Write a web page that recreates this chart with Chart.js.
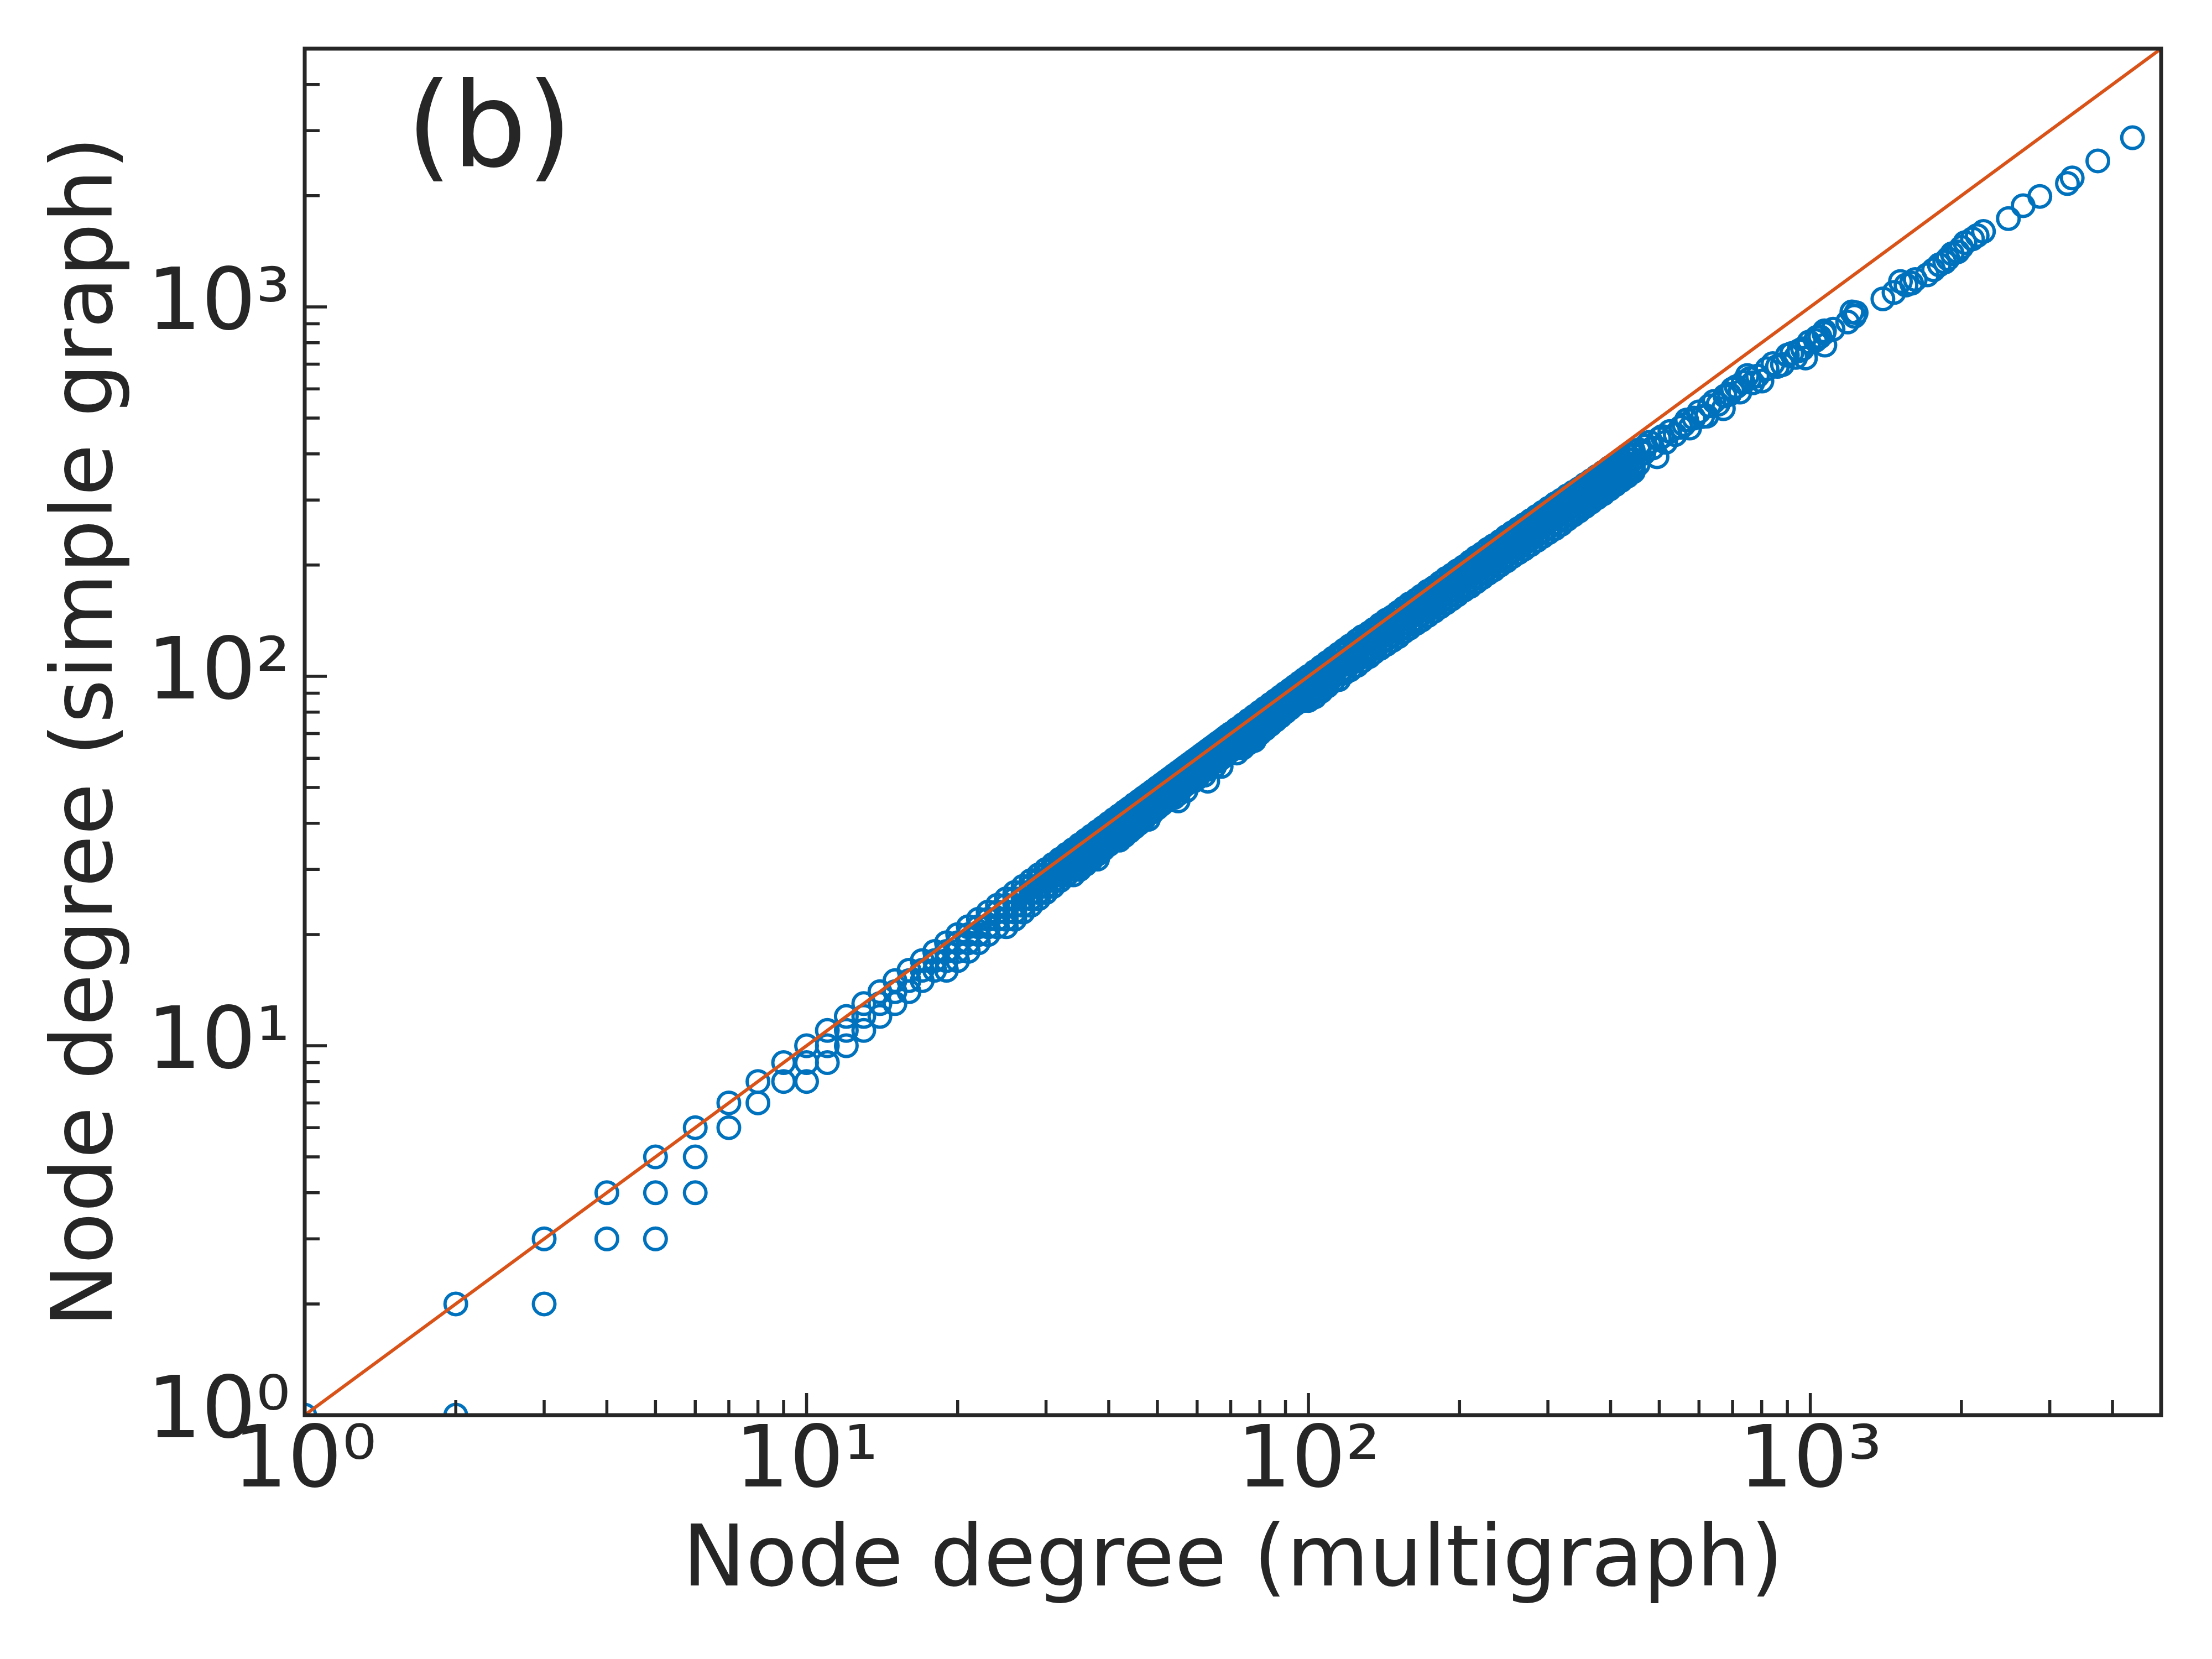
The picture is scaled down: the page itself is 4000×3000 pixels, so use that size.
<!DOCTYPE html>
<html>
<head>
<meta charset="utf-8">
<title>Node degree: multigraph vs simple graph</title>
<script src="https://cdn.jsdelivr.net/npm/chart.js@4.4.1/dist/chart.umd.min.js"></script>
<style>
  html, body { margin: 0; padding: 0; background: #ffffff; }
  canvas { display: block; }
</style>
</head>
<body>
<canvas id="degreeChart" width="4000" height="3000"></canvas>
<script>
// degree of a node in the multigraph, one entry per distinct value
var multigraphDegree = [
  1, 2, 3, 4, 5, 6, 7, 8, 9, 10, 11, 12,
  13, 14, 15, 16, 17, 18, 19, 20, 21, 22, 23, 24, 25, 26, 27, 28, 29, 30,
  31, 32, 33, 34, 35, 36, 37, 38, 39, 40, 41, 42, 43, 44, 45, 46, 47, 48, 49, 50,
  51, 52, 53, 54, 55, 56, 57, 58, 59, 60, 61, 62, 63, 64, 65, 66, 67, 68, 69, 70,
  72, 74, 76, 78, 80, 82, 84, 86, 88, 90, 92, 94, 96, 98,
  100, 103, 106, 109, 112, 115, 118, 121, 125, 128,
  132, 135, 139, 143, 147, 151, 155, 159, 164, 168,
  173, 178, 183, 188, 193, 198, 204, 210, 216, 222,
  228, 234, 241, 248, 255, 262, 269, 277, 285, 293,
  301, 310, 319, 328, 337, 346, 356, 366, 376, 387,
  398, 409, 420, 432, 444,
  454, 456, 466, 470, 478, 485, 495, 500, 507, 515,
  525, 538, 552, 560, 567, 575, 586, 600, 610, 622,
  630, 643, 655, 671, 676, 690, 700, 712, 724, 735,
  749, 758, 768, 785, 801, 820, 842, 860, 880, 900,
  918, 935, 949, 965, 978, 994, 1024, 1030, 1045, 1064,
  1067, 1069, 1110, 1187, 1210, 1224, 1234, 1395, 1468, 1512,
  1551, 1591, 1618, 1710, 1760, 1807, 1853, 1880, 1917, 1967,
  2000, 2034, 2104, 2150, 2213, 2481, 2655, 2866, 3253, 3325,
  3740, 4385
];

// simple-graph degrees seen for each multigraph degree above
var simpleGraphDegree = [
  [1], [2, 1], [3, 2], [4, 3], [5, 4, 3], [6, 5, 4], [7, 6], [8, 7], [9, 8], [10, 9, 8], [11, 10, 9], [12, 11, 10],
  [13, 12, 11], [14, 13, 12], [15, 14, 13], [16, 15, 14], [17, 16, 15], [18, 17, 16],
  [19, 18, 17, 16], [20, 19, 18, 17], [21, 20, 19, 18], [22, 21, 20, 19], [23, 22, 21, 20], [24, 23, 22, 21],
  [25, 24, 23, 22, 21], [26, 25, 24, 23, 22], [27, 26, 25, 24, 23], [28, 27, 26, 25, 24], [29, 28, 27, 26, 25], [30, 29, 28, 27, 26],
  [31, 30, 29, 28, 27], [32, 31, 30, 29, 28], [33, 32, 31, 30, 29], [34, 33, 32, 31, 30, 29], [35, 34, 33, 32, 31, 30],
  [36, 35, 34, 33, 32, 31], [37, 36, 35, 34, 33, 32], [38, 37, 36, 35, 34, 33, 32], [39, 38, 37, 36, 35, 34], [40, 39, 38, 37, 36, 35],
  [41, 40, 39, 38, 37, 36], [42, 41, 40, 39, 38, 37, 36], [43, 42, 41, 40, 39, 38, 37], [44, 43, 42, 41, 40, 39, 38], [45, 44, 43, 42, 41, 40, 39],
  [46, 45, 44, 43, 42, 41, 40], [47, 46, 45, 44, 43, 42, 41], [48, 47, 46, 45, 44, 43, 41], [49, 48, 47, 46, 45, 44, 43], [50, 49, 48, 47, 46, 45, 44],
  [51, 50, 49, 48, 47, 46, 45], [52, 51, 50, 49, 48, 47, 46], [53, 52, 51, 50, 49, 48, 47], [54, 53, 52, 51, 50, 49, 47], [55, 54, 53, 52, 51, 50, 48, 46],
  [56, 55, 54, 53, 52, 51, 50], [57, 56, 55, 54, 53, 52, 51, 49], [58, 57, 56, 55, 54, 53, 52], [59, 58, 57, 56, 55, 54, 52], [60, 59, 58, 57, 56, 55, 54, 53],
  [61, 60, 59, 58, 57, 56, 55], [62, 61, 60, 59, 58, 57, 56, 54], [63, 62, 61, 60, 59, 58, 56, 52], [64, 63, 62, 61, 60, 59, 58], [65, 64, 63, 62, 61, 60, 59, 57],
  [66, 65, 64, 63, 62, 61, 59], [67, 66, 65, 64, 63, 62, 60, 57], [68, 67, 66, 65, 64, 63, 61], [69, 68, 67, 66, 65, 64, 62], [70, 69, 68, 67, 66, 65, 63],
  [72, 70, 68, 66, 64, 62], [74, 72, 70, 68, 66, 64], [76, 74, 72, 70, 68, 66], [78, 76, 74, 72, 70, 68, 67], [80, 78, 76, 74, 72, 70],
  [82, 80, 78, 76, 74, 72], [84, 82, 80, 78, 76, 74], [86, 84, 82, 80, 78, 76], [88, 86, 84, 82, 80, 78], [90, 88, 86, 84, 82, 80],
  [92, 90, 88, 86, 84, 82], [94, 92, 90, 88, 86, 84], [96, 94, 92, 90, 88, 86], [98, 96, 94, 92, 90, 88, 86],
  [100, 97, 94, 91, 88, 86], [103, 100, 97, 94, 91, 88], [106, 103, 100, 97, 94, 91], [109, 106, 103, 100, 97, 94], [112, 109, 106, 103, 100, 97],
  [115, 112, 109, 106, 102, 98], [118, 115, 111, 108, 105, 102], [121, 118, 114, 111, 108, 104], [125, 121, 118, 114, 111, 107], [128, 124, 121, 117, 113, 110],
  [131, 128, 124, 120, 117, 113], [134, 131, 127, 123, 119, 116], [138, 134, 130, 127, 123, 119], [142, 138, 134, 130, 126, 122], [145, 141, 137, 133, 129, 125],
  [149, 145, 141, 137, 133, 128], [153, 149, 144, 140, 136, 132], [157, 152, 148, 144, 139, 135], [161, 157, 152, 148, 143, 139], [165, 160, 156, 151, 147, 142],
  [170, 165, 160, 155, 151, 146], [174, 169, 164, 159, 155, 150], [179, 174, 169, 164, 159, 154], [184, 178, 173, 168, 163, 158], [188, 183, 178, 172, 167, 162],
  [193, 187, 182, 177, 171, 166], [198, 193, 187, 182, 176, 171], [204, 198, 192, 187, 181, 175], [210, 204, 198, 192, 186, 180], [215, 209, 203, 197, 191, 185],
  [221, 214, 208, 202, 196, 190], [226, 220, 213, 207, 201, 194], [232, 226, 219, 213, 206, 200], [239, 232, 225, 219, 212, 205], [245, 238, 231, 224, 218, 211],
  [251, 244, 237, 230, 223, 216], [257, 250, 243, 236, 229, 221], [264, 257, 250, 242, 235, 227], [271, 264, 256, 249, 241, 233], [278, 270, 263, 255, 247, 239],
  [285, 277, 270, 262, 253, 245], [293, 285, 277, 269, 260, 251], [300, 292, 284, 276, 267, 258], [308, 300, 291, 283, 274, 266], [315, 307, 298, 290, 281, 273],
  [322, 314, 305, 297, 288, 280], [331, 322, 313, 304, 296, 288], [339, 330, 321, 312, 303, 296], [348, 339, 330, 320, 311, 304], [357, 348, 338, 329, 319, 312],
  [367, 357, 347, 338, 328, 321], [376, 366, 356, 346, 336, 330], [386, 376, 366, 356, 345, 339], [397, 386, 376, 365, 354, 348], [408, 397, 386, 375, 364, 358],
  [375], [410], [402], [420], [430], [415], [393], [440], [446], [430],
  [460], [451], [472], [480], [494], [470], [500], [520], [505], [506],
  [540], [555], [545], [530], [574], [580], [600], [608], [588], [625],
  [652], [640], [623], [650], [630], [680], [702], [690], [698], [740],
  [748], [730], [761], [770], [727], [803], [811], [827], [830], [849],
  [861], [788], [870], [910], [969], [943], [964], [1051], [1094], [1172],
  [1146], [1159], [1186], [1221], [1260], [1300], [1323], [1350], [1393], [1409],
  [1450], [1493], [1528], [1560], [1600], [1734], [1879], [1991], [2158], [2233],
  [2484], [2870]
];

// reference line simple = multi
var identityLine = [1, 5000];

var axisMin = 1;
var axisMax = 5000;
var logTickValues = [1, 2, 3, 4, 5, 6, 7, 8, 9, 10, 20, 30, 40, 50, 60, 70, 80, 90,
  100, 200, 300, 400, 500, 600, 700, 800, 900, 1000, 2000, 3000, 4000, 5000];
var decadeValues = [1, 10, 100, 1000];
var decadeLabels = ['10\u2070', '10\u00B9', '10\u00B2', '10\u00B3'];

var xTitle = 'Node degree (multigraph)';
var yTitle = 'Node degree (simple graph)';
var panelLabel = '(b)';

var inkColor = '#262626';
var fontFamily = "'DejaVu Sans', sans-serif";

var points = [];
multigraphDegree.forEach(function (k, i) {
  simpleGraphDegree[i].forEach(function (s) {
    points.push({ x: k, y: s });
  });
});

var linePoints = identityLine.map(function (v) { return { x: v, y: v }; });

function decadeLabel(value) {
  var i = decadeValues.indexOf(value);
  return i >= 0 ? decadeLabels[i] : '';
}

function useTickList(scale) {
  scale.ticks = logTickValues.map(function (v) { return { value: v }; });
}

// inward ticks, box frame and the panel letter
var frameAndTicks = {
  id: 'frameAndTicks',
  afterDraw: function (chart) {
    var ctx = chart.ctx;
    var a = chart.chartArea;
    var xs = chart.scales.x;
    var ys = chart.scales.y;
    ctx.save();
    ctx.strokeStyle = inkColor;
    ctx.lineWidth = 5.5;
    ctx.beginPath();
    logTickValues.forEach(function (v) {
      var len = decadeValues.indexOf(v) >= 0 ? 40 : 27;
      var px = xs.getPixelForValue(v);
      if (px > a.left + 2 && px < a.right - 2) {
        ctx.moveTo(px, a.bottom);
        ctx.lineTo(px, a.bottom - len);
      }
      var py = ys.getPixelForValue(v);
      if (py < a.bottom - 2 && py > a.top + 2) {
        ctx.moveTo(a.left, py);
        ctx.lineTo(a.left + len, py);
      }
    });
    ctx.stroke();
    ctx.lineWidth = 7;
    ctx.strokeRect(a.left, a.top, a.right - a.left, a.bottom - a.top);
    ctx.fillStyle = inkColor;
    ctx.font = "212px 'DejaVu Sans'";
    ctx.textAlign = 'left';
    ctx.textBaseline = 'alphabetic';
    ctx.fillText(panelLabel, a.left + 184, a.top + 212);
    ctx.restore();
  }
};

Chart.defaults.font.family = fontFamily;
Chart.defaults.color = inkColor;

var ctx = document.getElementById('degreeChart').getContext('2d');
var degreeChart = new Chart(ctx, {
  type: 'scatter',
  data: {
    datasets: [{
      type: 'line',
      label: 'simple = multi',
      data: linePoints,
      borderColor: '#D95319',
      borderWidth: 6,
      pointRadius: 0,
      fill: false,
      order: 0
    }, {
      label: 'nodes',
      data: points,
      pointStyle: 'circle',
      pointRadius: 19.5,
      pointBorderWidth: 6,
      pointBorderColor: '#0072BD',
      pointBackgroundColor: 'rgba(0,0,0,0)',
      borderColor: '#0072BD',
      backgroundColor: 'rgba(0,0,0,0)',
      clip: 0,
      order: 1
    }]
  },
  options: {
    responsive: false,
    animation: false,
    devicePixelRatio: 1,
    events: [],
    layout: {
      padding: { top: 88, right: 92, bottom: 0, left: 0 }
    },
    scales: {
      x: {
        type: 'logarithmic',
        position: 'bottom',
        min: axisMin,
        max: axisMax,
        afterBuildTicks: useTickList,
        afterFit: function (scale) {
          scale.height = 441;
          scale.paddingLeft = 0;
          scale.paddingRight = 0;
        },
        grid: { display: false, drawTicks: false },
        border: { display: false },
        ticks: {
          autoSkip: false,
          maxRotation: 0,
          minRotation: 0,
          padding: -4,
          color: inkColor,
          font: { size: 155 },
          callback: decadeLabel
        },
        title: {
          display: true,
          text: xTitle,
          color: inkColor,
          font: { size: 153 },
          padding: { top: 0, bottom: 81 }
        }
      },
      y: {
        type: 'logarithmic',
        position: 'left',
        min: axisMin,
        max: axisMax,
        afterBuildTicks: useTickList,
        afterFit: function (scale) {
          scale.width = 551;
          scale.paddingTop = 0;
          scale.paddingBottom = 0;
        },
        grid: { display: false, drawTicks: false },
        border: { display: false },
        ticks: {
          autoSkip: false,
          padding: 26,
          color: inkColor,
          font: { size: 155 },
          callback: decadeLabel
        },
        title: {
          display: true,
          text: yTitle,
          color: inkColor,
          font: { size: 153 },
          padding: { top: 70, bottom: 0 }
        }
      }
    },
    plugins: {
      legend: { display: false },
      tooltip: { enabled: false }
    }
  },
  plugins: [frameAndTicks]
});
</script>
</body>
</html>
